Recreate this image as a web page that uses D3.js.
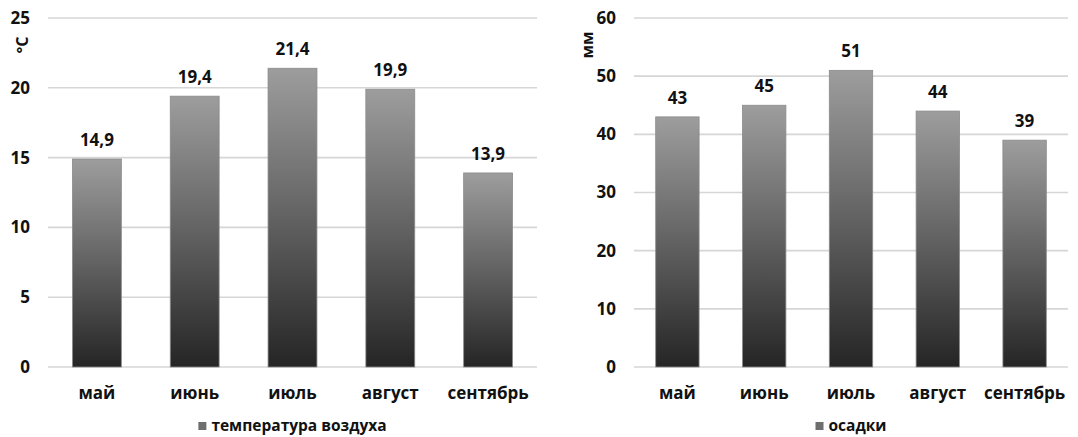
<!DOCTYPE html>
<html>
<head>
<meta charset="utf-8">
<script src="https://cdn.jsdelivr.net/npm/d3@7"></script>
<style>
  html, body { margin: 0; padding: 0; background: #fff; }
  svg { display: block; }
  text { font-family: "Open Sans", "Noto Sans", sans-serif; font-weight: 700; fill: #111; }
</style>
</head>
<body>
<svg id="chart" width="1078" height="437"></svg>
<script>
// Monthly climate data, May–September
const months = ["май", "июнь", "июль", "август", "сентябрь"];
const temperature = [14.9, 19.4, 21.4, 19.9, 13.9];
const precipitation = [43, 45, 51, 44, 39];
const temperatureTicks = [0, 5, 10, 15, 20, 25];
const precipitationTicks = [0, 10, 20, 30, 40, 50, 60];

const ru = d3.formatLocale({ decimal: ",", thousands: " ", grouping: [3], currency: ["", ""] });

const svg = d3.select("#chart");

// shared vertical gradient for the bars: light on top, dark at the base
const defs = svg.append("defs");
const grad = defs.append("linearGradient")
  .attr("id", "barFill").attr("x1", 0).attr("y1", 0).attr("x2", 0).attr("y2", 1);
grad.append("stop").attr("offset", "0%").attr("stop-color", "#9d9d9d");
grad.append("stop").attr("offset", "50%").attr("stop-color", "#626262");
grad.append("stop").attr("offset", "100%").attr("stop-color", "#252525");

function drawChart({ left, right, top, bottom, values, ticks, maxY, labelFormat, unit, unitX, legend }) {
  const g = svg.append("g");

  const x = d3.scaleBand().domain(months).range([left, right]).paddingInner(0.5).paddingOuter(0.25);
  const y = d3.scaleLinear().domain([0, maxY]).range([bottom, top]);

  // horizontal gridlines
  g.append("g").selectAll("line").data(ticks).join("line")
    .attr("x1", left).attr("x2", right)
    .attr("y1", d => y(d)).attr("y2", d => y(d))
    .attr("stroke", "#d6d6d6").attr("stroke-width", 1.6);

  // y axis tick labels
  const yAxis = d3.axisLeft(y).tickValues(ticks).tickSize(0).tickPadding(18).tickFormat(d3.format("d"));
  const ya = g.append("g").attr("transform", `translate(${left},0)`).call(yAxis);
  ya.select(".domain").remove();
  ya.selectAll("text").attr("font-size", 17).attr("font-family", null).attr("fill", "#111");

  // bars
  g.append("g").selectAll("rect").data(values).join("rect")
    .attr("x", (d, i) => x(months[i]))
    .attr("y", d => y(d))
    .attr("width", x.bandwidth())
    .attr("height", d => y(0) - y(d))
    .attr("fill", "url(#barFill)")
    .attr("stroke", "#8a8a8a").attr("stroke-width", 0.8);

  // value labels above bars
  g.append("g").selectAll("text").data(values).join("text")
    .attr("x", (d, i) => x(months[i]) + x.bandwidth() / 2)
    .attr("y", d => y(d) - 13)
    .attr("text-anchor", "middle")
    .attr("font-size", 17)
    .text(labelFormat);

  // category axis labels
  const xAxis = d3.axisBottom(x).tickSize(0).tickPadding(20);
  const xa = g.append("g").attr("transform", `translate(0,${bottom})`).call(xAxis);
  xa.select(".domain").remove();
  xa.selectAll("text").attr("font-size", 17).attr("font-family", null).attr("fill", "#111");

  // rotated unit title
  g.append("text")
    .attr("transform", `translate(${unitX},${top + 27}) rotate(-90)`)
    .attr("text-anchor", "middle")
    .attr("dy", "0.35em")
    .attr("font-size", 16)
    .text(unit);

  // legend
  const lg = g.append("g");
  const lt = lg.append("text")
    .attr("y", 426)
    .attr("dy", "0.35em")
    .attr("font-size", 15.5)
    .text(legend);
  const w = lt.node().getComputedTextLength();
  const cx = (left + right) / 2;
  const start = cx - (w + 13) / 2;
  lg.append("rect").attr("x", start).attr("y", 422).attr("width", 8).attr("height", 8).attr("fill", "#6e6e6e");
  lt.attr("x", start + 13);
}

drawChart({
  left: 48, right: 537, top: 18, bottom: 367,
  values: temperature, ticks: temperatureTicks, maxY: 25,
  labelFormat: ru.format(".1f"), unit: "°C", unitX: 22,
  legend: "температура воздуха"
});

drawChart({
  left: 634, right: 1068, top: 18, bottom: 367,
  values: precipitation, ticks: precipitationTicks, maxY: 60,
  labelFormat: d3.format("d"), unit: "мм", unitX: 587,
  legend: "осадки"
});
</script>
</body>
</html>
